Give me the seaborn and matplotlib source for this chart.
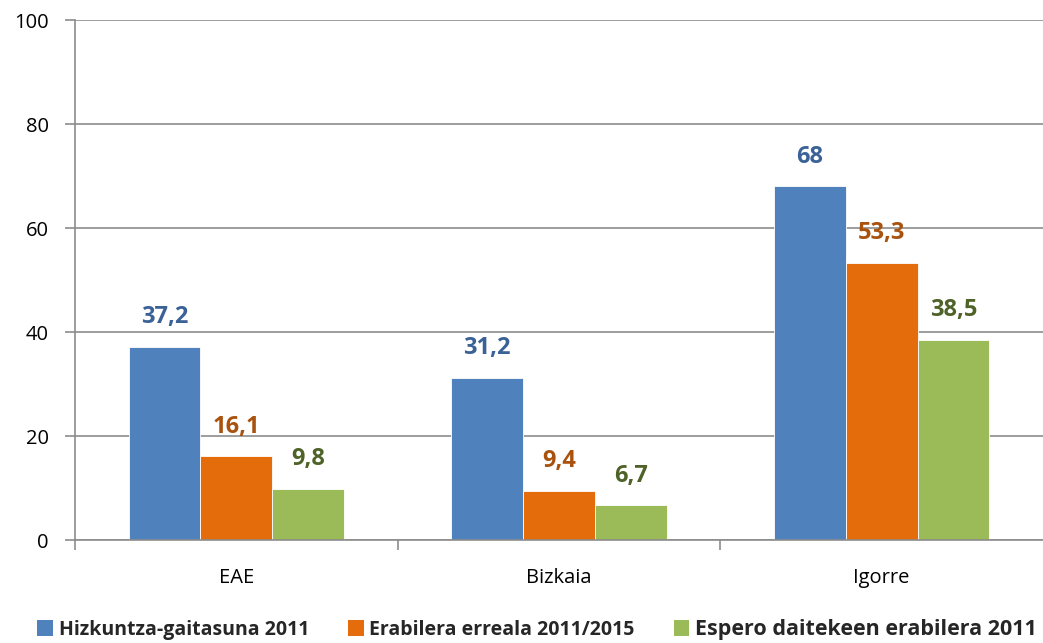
import matplotlib
matplotlib.use("Agg")
import matplotlib.pyplot as plt
import seaborn as sns
import pandas as pd
from matplotlib.patches import Patch

categories = ["EAE", "Bizkaia", "Igorre"]
series = ["Hizkuntza-gaitasuna 2011", "Erabilera erreala 2011/2015", "Espero daitekeen erabilera 2011"]
hizkuntza = [37.2, 31.2, 68]
erabilera = [16.1, 9.4, 53.3]
espero = [9.8, 6.7, 38.5]
labels_txt = [["37,2", "31,2", "68"], ["16,1", "9,4", "53,3"], ["9,8", "6,7", "38,5"]]

bar_colors = ["#4F81BD", "#E46C0A", "#9BBB59"]
label_colors = ["#3B6297", "#A9520E", "#4F6228"]

rows = []
for s, vals in zip(series, [hizkuntza, erabilera, espero]):
    for c, v in zip(categories, vals):
        rows.append({"cat": c, "series": s, "value": v})
df = pd.DataFrame(rows)

sns.set_style("white")
plt.rcParams["font.family"] = ["Open Sans", "DejaVu Sans"]

fig = plt.figure(figsize=(10.43, 6.43), dpi=100)
ax = fig.add_axes([75 / 1043, 1 - 540 / 643, (1043 - 75) / 1043, 520 / 643])

sns.barplot(data=df, x="cat", y="value", hue="series", order=categories, hue_order=series,
            palette=bar_colors, width=0.667, saturation=1, ax=ax, legend=False, errorbar=None)

for i, cont in enumerate(ax.containers):
    for j, bar in enumerate(cont):
        bar.set_edgecolor("white")
        bar.set_linewidth(0.6)
        x = bar.get_x() + bar.get_width() / 2
        h = bar.get_height()
        ax.text(x, h + 5.7, labels_txt[i][j], ha="center", va="center", color=label_colors[i],
                fontsize=17, fontweight="bold")

ax.set_ylim(0, 100)
ax.set_xlim(-0.5, 2.5)
ax.set_yticks([0, 20, 40, 60, 80, 100])
ax.yaxis.grid(True, color="#8C8C8C", linewidth=1.2)
ax.set_axisbelow(True)
ax.set_xlabel("")
ax.set_ylabel("")
for sp in ["top", "right"]:
    ax.spines[sp].set_visible(False)
for sp in ["left", "bottom"]:
    ax.spines[sp].set_color("#8C8C8C")
    ax.spines[sp].set_linewidth(1.2)
ax.tick_params(axis="y", which="both", left=True, length=7, color="#8C8C8C", width=1.2,
               labelsize=14.5, pad=12, labelcolor="black")
ax.set_xticks([0, 1, 2])
ax.set_xticklabels(categories)
ax.tick_params(axis="x", which="major", bottom=False, labelsize=14.5, pad=17, labelcolor="black")
ax.set_xticks([-0.5, 0.5, 1.5], minor=True)
ax.tick_params(axis="x", which="minor", bottom=True, length=7, color="#8C8C8C", width=1.2)

handles = [Patch(facecolor=c, edgecolor="none") for c in bar_colors]
leg = fig.legend(handles, series, loc="lower center", bbox_to_anchor=(0.515, -0.022), ncol=3,
                 frameon=False, prop={"weight": "bold", "size": 14}, handlelength=0.8, handleheight=0.9,
                 handletextpad=0.3, columnspacing=2.0)
leg.get_texts()[2].set_fontsize(15.5)

fig.savefig("out.png", dpi=100)
